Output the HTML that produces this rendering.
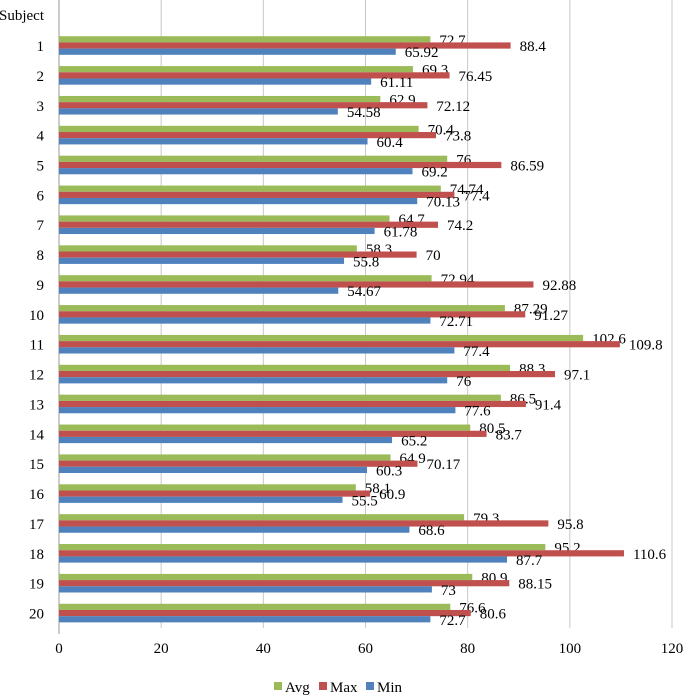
<!DOCTYPE html>
<html><head><meta charset="utf-8"><style>
html,body{margin:0;padding:0;background:#fff;}
svg text{font-family:"Liberation Serif",serif;}
</style></head><body>
<svg id="chart" width="685" height="695" xmlns="http://www.w3.org/2000/svg"></svg>
<script>
const categories=["1","2","3","4","5","6","7","8","9","10","11","12","13","14","15","16","17","18","19","20"];
const avgValues=[72.7,69.3,62.9,70.4,76,74.74,64.7,58.3,72.94,87.29,102.6,88.3,86.5,80.5,64.9,58.1,79.3,95.2,80.9,76.6];
const maxValues=[88.4,76.45,72.12,73.8,86.59,77.4,74.2,70,92.88,91.27,109.8,97.1,91.4,83.7,70.17,60.9,95.8,110.6,88.15,80.6];
const minValues=[65.92,61.11,54.58,60.4,69.2,70.13,61.78,55.8,54.67,72.71,77.4,76,77.6,65.2,60.3,55.5,68.6,87.7,73,72.7];
const xTicks=[0,20,40,60,80,100,120];
const seriesNames=["Avg","Max","Min"];

const svg=document.getElementById('chart');
const NS="http://www.w3.org/2000/svg";
const X0=59,X1=672,XMAX=120,TOP=0.7,BOT=628;
const nBands=categories.length+1;
const band=(BOT-TOP)/nBands;
const x=v=>X0+(X1-X0)*v/XMAX;
const yc=i=>TOP+band*(i+1.5);
const colors=["#9BBB59","#C0504D","#4F81BD"];
function mk(t,a){const e=document.createElementNS(NS,t);for(const k in a)e.setAttribute(k,a[k]);svg.appendChild(e);return e;}

xTicks.forEach(t=>{
  const g=mk('line',{x1:x(t),x2:x(t),y1:0,y2:t===0?BOT+6:BOT,stroke:t===0?'#999':'#c8c8c8','stroke-width':1});
  
  
  const lb=mk('text',{x:x(t),y:653,'text-anchor':'middle','font-size':15,fill:'#000'});
  lb.textContent=t;
  
  
});
const subj=mk('text',{x:44,y:20,'text-anchor':'end','font-size':15});
subj.textContent="Subject";



const series=[avgValues,maxValues,minValues];
const bh=6.2;
categories.forEach((c,i)=>{
  const cy=yc(i);
  const lb=mk('text',{x:44,y:cy+5.5,'text-anchor':'end','font-size':15});
  lb.textContent=c;
  
  
  series.forEach((s,k)=>{
    const top=cy-1.5*bh+k*bh;
    const r=mk('rect',{x:X0,y:top,width:x(s[i])-X0,height:bh,fill:colors[k]});
    
    
    const t=mk('text',{x:x(s[i])+9,y:top+bh/2+5.5,'font-size':15});
    t.textContent=s[i];
    
    
  });
});

const legX=[274,319,366];
seriesNames.forEach((n,k)=>{
  const sw=mk('rect',{x:legX[k],y:682,width:8,height:8,fill:colors[k]});
  
  
  const t=mk('text',{x:legX[k]+11,y:692,'font-size':15});
  t.textContent=n;
  
  
});
</script>
</body></html>
